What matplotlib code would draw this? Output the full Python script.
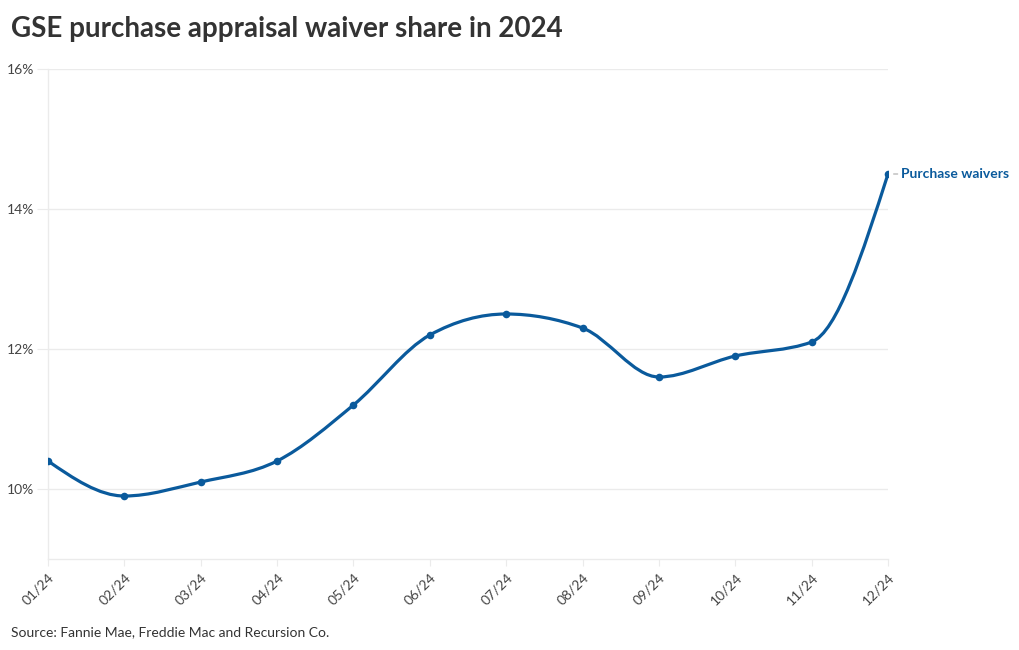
import numpy as np
import matplotlib
matplotlib.use("Agg")
import matplotlib.pyplot as plt
from matplotlib.path import Path
from matplotlib.patches import PathPatch

months = ["01/24", "02/24", "03/24", "04/24", "05/24", "06/24",
          "07/24", "08/24", "09/24", "10/24", "11/24", "12/24"]
waivers = [10.4, 9.9, 10.1, 10.4, 11.2, 12.2, 12.5, 12.3, 11.6, 11.9, 12.1, 14.5]
y_ticks = [10, 12, 14, 16]
series_name = "Purchase waivers"
title = "GSE purchase appraisal waiver share in 2024"
source = "Source: Fannie Mae, Freddie Mac and Recursion Co."

plt.rcParams['font.family'] = ['Lato', 'DejaVu Sans']
LINE = "#0a5a9c"
GRID = "#ebebeb"
TXT = "#333333"

fig = plt.figure(figsize=(10.2, 6.5), dpi=100)
ax = fig.add_axes([48/1020, 1-559/650, (888-48)/1020, (559-69)/650])

x = np.arange(len(months), dtype=float)
y = np.array(waivers, dtype=float)

# monotone-x cubic (as in d3.curveMonotoneX)
def sign(v):
    return -1.0 if v < 0 else 1.0

n = len(x)
t = np.zeros(n)
for i in range(1, n-1):
    h0 = x[i]-x[i-1]; h1 = x[i+1]-x[i]
    s0 = (y[i]-y[i-1])/h0; s1 = (y[i+1]-y[i])/h1
    p = (s0*h1 + s1*h0)/(h0+h1)
    t[i] = (sign(s0)+sign(s1))*min(abs(s0), abs(s1), 0.5*abs(p))
t[0] = (3*(y[1]-y[0])/(x[1]-x[0]) - t[1])/2
t[-1] = (3*(y[-1]-y[-2])/(x[-1]-x[-2]) - t[-2])/2

verts = [(x[0], y[0])]
codes = [Path.MOVETO]
for i in range(n-1):
    dx = (x[i+1]-x[i])/3
    verts += [(x[i]+dx, y[i]+dx*t[i]), (x[i+1]-dx, y[i+1]-dx*t[i+1]), (x[i+1], y[i+1])]
    codes += [Path.CURVE4]*3
ax.add_patch(PathPatch(Path(verts, codes), facecolor='none', edgecolor=LINE,
                       lw=2.3, capstyle='round', joinstyle='round', zorder=3))
ax.scatter(x, y, s=30, color=LINE, zorder=4, linewidths=0)

ax.set_xlim(0, 11)
ax.set_ylim(9, 16)
ax.set_yticks(y_ticks)
ax.set_yticklabels([f"{v}%" for v in y_ticks])
ax.set_xticks(x)
ax.set_xticklabels(months, rotation=45, ha='right', va='top', rotation_mode='anchor')

for s in ['top', 'right']:
    ax.spines[s].set_visible(False)
for s in ['left', 'bottom']:
    ax.spines[s].set_color(GRID)
    ax.spines[s].set_linewidth(1)
ax.grid(axis='y', color=GRID, lw=1)
ax.set_axisbelow(True)
ax.tick_params(axis='y', length=8, color=GRID, labelsize=10, labelcolor="#444444", pad=2)
ax.tick_params(axis='x', length=5, color=GRID, labelsize=10, labelcolor="#444444", pad=4)

# Series label with short connector
ax.annotate(series_name, xy=(x[-1], y[-1]), xytext=(9.5, 0), textcoords='offset points',
            color=LINE, fontsize=10, fontweight='bold', va='center', ha='left',
            annotation_clip=False)
ax.annotate("", xy=(x[-1], y[-1]), xytext=(7, 0), textcoords='offset points',
            arrowprops=dict(arrowstyle='-', color='#aaaaaa', lw=0.8, shrinkA=0, shrinkB=4),
            annotation_clip=False)

fig.text(11/1020, 1-29/650, title, fontsize=20, fontweight='bold', color=TXT,
         ha='left', va='center')
fig.text(11/1020, 1-632/650, source, fontsize=10, color=TXT, ha='left', va='center')

fig.savefig("out.png", dpi=100, facecolor='white')
